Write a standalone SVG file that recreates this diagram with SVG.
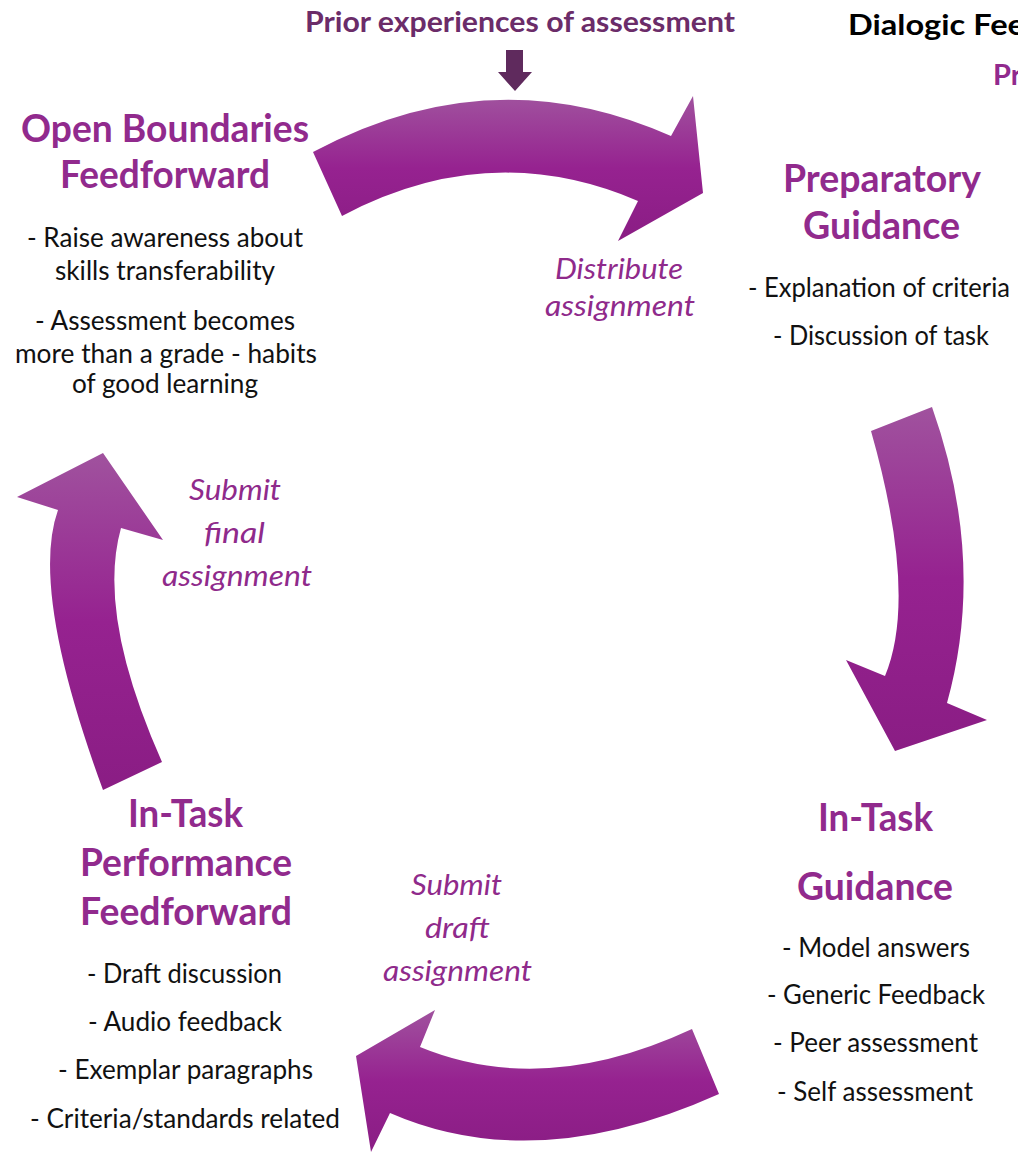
<svg xmlns="http://www.w3.org/2000/svg" width="1018" height="1152" viewBox="0 0 1018 1152">
<defs>
<linearGradient id="ag" x1="0" y1="0" x2="0" y2="1">
<stop offset="0" stop-color="#a0529e"/>
<stop offset="0.5" stop-color="#962290"/>
<stop offset="1" stop-color="#8a1d84"/>
</linearGradient>
<style>
text{font-family:Lato,"Open Sans","Liberation Sans",sans-serif}
.h{font-weight:bold;font-size:39px;fill:#912a8d}
.b{font-size:27px;fill:#111}
.i{font-style:italic;font-size:28px;fill:#8f2a8b}
.t{font-weight:bold;font-size:29px}
.arrow{fill:url(#ag)}
</style>
</defs>
<rect width="1018" height="1152" fill="#fff"/>
<g id="connectors">
<path id="arrow-top" class="arrow" d="M313,152 Q492,56 671,136 L693,96 L703,193 L618,241 L638,201 Q490,137.5 342,216 Z"/>
<path id="arrow-right" class="arrow" d="M932,407 Q986.5,561 947,703 L987,720 L895,751 L846,660 L885,676 Q918,596.5 871,431 Z"/>
<path id="arrow-bottom" class="arrow" d="M692,1029 Q544,1098 420,1047 L435,1010 L356,1056 L371,1152 L390,1113 Q535.5,1176.5 719,1094 Z"/>
<path id="arrow-left" class="arrow" d="M103,790 Q29.5,590 58,510 L17,497 L103,453 L163,540 L121,528 Q96.5,615 162,762 Z"/>
<path id="arrow-prior" fill="#5f2a5d" d="M506,50 H523 V72 H532 L515,91 L498,72 H506 Z"/>
</g>
<g id="title">
<text class="t" x="305" y="32" textLength="430" lengthAdjust="spacingAndGlyphs" fill="#6b2c69">Prior experiences of assessment</text>
<text class="t" x="848" y="35" textLength="177" lengthAdjust="spacingAndGlyphs" fill="#000">Dialogic Fee</text>
<text class="t" x="993" y="85" fill="#912a8d">Pr</text>
</g>
<g id="node-open-boundaries">
<text class="h" x="21" y="142" textLength="288" lengthAdjust="spacingAndGlyphs">Open Boundaries</text>
<text class="h" x="60" y="188" textLength="210" lengthAdjust="spacingAndGlyphs">Feedforward</text>
<text class="b" x="27" y="247" textLength="276" lengthAdjust="spacingAndGlyphs">- Raise awareness about</text>
<text class="b" x="55" y="280" textLength="220" lengthAdjust="spacingAndGlyphs">skills transferability</text>
<text class="b" x="35" y="330" textLength="260" lengthAdjust="spacingAndGlyphs">- Assessment becomes</text>
<text class="b" x="15" y="363" textLength="302" lengthAdjust="spacingAndGlyphs">more than a grade - habits</text>
<text class="b" x="72" y="393" textLength="186" lengthAdjust="spacingAndGlyphs">of good learning</text>
</g>
<g id="node-preparatory">
<text class="h" x="783" y="192" textLength="198" lengthAdjust="spacingAndGlyphs">Preparatory</text>
<text class="h" x="803" y="239" textLength="157" lengthAdjust="spacingAndGlyphs">Guidance</text>
<text class="b" x="748" y="297" textLength="262" lengthAdjust="spacingAndGlyphs">- Explanation of criteria</text>
<text class="b" x="773" y="345" textLength="216" lengthAdjust="spacingAndGlyphs">- Discussion of task</text>
</g>
<g id="node-in-task-guidance">
<text class="h" x="818" y="831" textLength="115" lengthAdjust="spacingAndGlyphs">In-Task</text>
<text class="h" x="797" y="900" textLength="156" lengthAdjust="spacingAndGlyphs">Guidance</text>
<text class="b" x="782" y="957" textLength="188" lengthAdjust="spacingAndGlyphs">- Model answers</text>
<text class="b" x="767" y="1004" textLength="218" lengthAdjust="spacingAndGlyphs">- Generic Feedback</text>
<text class="b" x="773" y="1052" textLength="205" lengthAdjust="spacingAndGlyphs">- Peer assessment</text>
<text class="b" x="777" y="1101" textLength="196" lengthAdjust="spacingAndGlyphs">- Self assessment</text>
</g>
<g id="node-in-task-performance">
<text class="h" x="128" y="827" textLength="115" lengthAdjust="spacingAndGlyphs">In-Task</text>
<text class="h" x="80" y="876" textLength="212" lengthAdjust="spacingAndGlyphs">Performance</text>
<text class="h" x="80" y="925" textLength="212" lengthAdjust="spacingAndGlyphs">Feedforward</text>
<text class="b" x="87" y="983" textLength="195" lengthAdjust="spacingAndGlyphs">- Draft discussion</text>
<text class="b" x="88" y="1031" textLength="194" lengthAdjust="spacingAndGlyphs">- Audio feedback</text>
<text class="b" x="58" y="1079" textLength="255" lengthAdjust="spacingAndGlyphs">- Exemplar paragraphs</text>
<text class="b" x="30" y="1128" textLength="310" lengthAdjust="spacingAndGlyphs">- Criteria/standards related</text>
</g>
<g id="labels">
<text class="i" x="555" y="279" textLength="128" lengthAdjust="spacingAndGlyphs">Distribute</text>
<text class="i" x="545" y="316" textLength="150" lengthAdjust="spacingAndGlyphs">assignment</text>
<text class="i" x="189" y="500" textLength="92" lengthAdjust="spacingAndGlyphs">Submit</text>
<text class="i" x="204" y="543" textLength="61" lengthAdjust="spacingAndGlyphs">final</text>
<text class="i" x="162" y="586" textLength="150" lengthAdjust="spacingAndGlyphs">assignment</text>
<text class="i" x="411" y="895" textLength="91" lengthAdjust="spacingAndGlyphs">Submit</text>
<text class="i" x="425" y="938" textLength="65" lengthAdjust="spacingAndGlyphs">draft</text>
<text class="i" x="383" y="981" textLength="149" lengthAdjust="spacingAndGlyphs">assignment</text>
</g>
</svg>
